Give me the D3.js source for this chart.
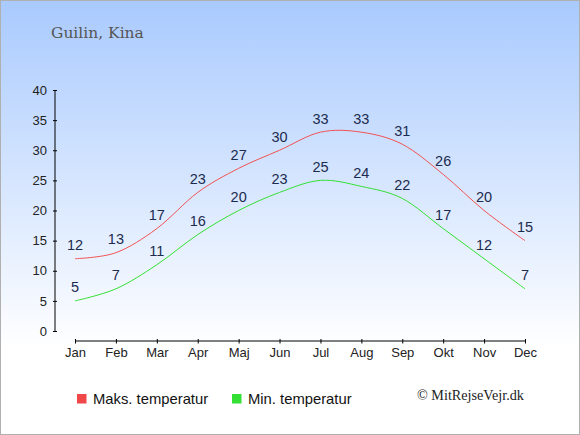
<!DOCTYPE html>
<html>
<head>
<meta charset="utf-8">
<script src="https://cdn.jsdelivr.net/npm/d3@7"></script>
<style>
  body { margin: 0; padding: 0; }
  svg { display: block; }
</style>
</head>
<body>
<svg id="chart" width="580" height="435"></svg>
<script>
// chart data
let months = ['Jan', 'Feb', 'Mar', 'Apr', 'Maj', 'Jun', 'Jul', 'Aug', 'Sep', 'Okt', 'Nov', 'Dec'];
let maxTemp = [12, 13, 17, 23, 27, 30, 33, 33, 31, 26, 20, 15];
let minTemp = [5, 7, 11, 16, 20, 23, 25, 24, 22, 17, 12, 7];
let yTicks = [0, 5, 10, 15, 20, 25, 30, 35, 40];

let svg = d3.select('svg#chart');

// background gradient
let defs = svg.append('defs');
let grad = defs.append('linearGradient')
  .attr('id', 'bg')
  .attr('x1', 0).attr('y1', 0)
  .attr('x2', 0).attr('y2', 1);
grad.append('stop').attr('offset', '0%').attr('stop-color', '#a9cafe');
grad.append('stop').attr('offset', '80%').attr('stop-color', '#ffffff');
grad.append('stop').attr('offset', '100%').attr('stop-color', '#ffffff');

svg.append('rect')
  .attr('x', 0.5).attr('y', 0.5)
  .attr('width', 579).attr('height', 434)
  .attr('fill', 'url(#bg)')
  .attr('stroke', '#b0b0b0')
  .attr('stroke-width', 1);

// title
svg.append('text')
  .attr('x', 51)
  .attr('y', 38)
  .attr('font-family', 'DejaVu Serif, serif')
  .attr('font-size', 15.5)
  .attr('fill', '#555')
  .text('Guilin, Kina');

// scales
let xScale = d3.scalePoint()
  .domain(months)
  .range([75, 525]);

let yScale = d3.scaleLinear()
  .domain([0, 40])
  .range([331, 90]);

// axes
let yAxis = svg.append('g')
  .attr('transform', 'translate(55, 0)')
  .call(d3.axisLeft(yScale).tickValues(yTicks).tickSize(4).tickPadding(4));

let xAxis = svg.append('g')
  .attr('transform', 'translate(0, 341)')
  .call(d3.axisBottom(xScale).tickSize(4).tickPadding(3));

[yAxis, xAxis].forEach(ax => {
  ax.select('.domain').attr('stroke', '#000');
  ax.selectAll('.tick line').attr('stroke', '#000');
  ax.selectAll('.tick text')
    .attr('font-family', 'Liberation Sans, Arial, sans-serif')
    .attr('font-size', 13)
    .attr('fill', '#222');
});
// ticks cross the axis line, no outer ends on the domain
yAxis.selectAll('.tick line').attr('x1', 2).attr('x2', -2);
xAxis.selectAll('.tick line').attr('y1', -2).attr('y2', 2.5);
yAxis.select('.domain').attr('d', `M0,${yScale(40)}V${yScale(0)}`);
xAxis.select('.domain').attr('d', `M${xScale('Jan')},0H${xScale('Dec')}`);

// lines
let line = d3.line()
  .x((d, i) => xScale(months[i]))
  .y(d => yScale(d))
  .curve(d3.curveCardinal);

svg.append('path')
  .attr('d', line(maxTemp))
  .attr('fill', 'none')
  .attr('stroke', '#f25252')
  .attr('stroke-width', 1);

svg.append('path')
  .attr('d', line(minTemp))
  .attr('fill', 'none')
  .attr('stroke', '#33e033')
  .attr('stroke-width', 1);

// value labels
let addLabels = (values) => {
  svg.append('g').selectAll('text')
    .data(values)
    .enter()
    .append('text')
    .attr('x', (d, i) => xScale(months[i]))
    .attr('y', d => yScale(d) - 8.5)
    .attr('text-anchor', 'middle')
    .attr('font-family', 'Liberation Sans, Arial, sans-serif')
    .attr('font-size', 14.5)
    .attr('fill', '#1c2b4f')
    .text(d => d);
};
addLabels(maxTemp);
addLabels(minTemp);

// legend
let legend = [
  {label: 'Maks. temperatur', color: '#f04848', x: 77},
  {label: 'Min. temperatur', color: '#33e033', x: 232}
];
let lg = svg.append('g').selectAll('g')
  .data(legend)
  .enter()
  .append('g');

lg.append('rect')
  .attr('x', d => d.x)
  .attr('y', 394)
  .attr('width', 9.5)
  .attr('height', 9.5)
  .attr('fill', d => d.color);

lg.append('text')
  .attr('x', d => d.x + 16)
  .attr('y', 403.5)
  .attr('font-family', 'Liberation Sans, Arial, sans-serif')
  .attr('font-size', 14.8)
  .attr('fill', '#111')
  .text(d => d.label);

svg.append('text')
  .attr('x', 417)
  .attr('y', 400)
  .attr('font-family', 'Liberation Serif, Times New Roman, serif')
  .attr('font-size', 14.2)
  .attr('fill', '#222')
  .text('© MitRejseVejr.dk');
</script>
</body>
</html>
